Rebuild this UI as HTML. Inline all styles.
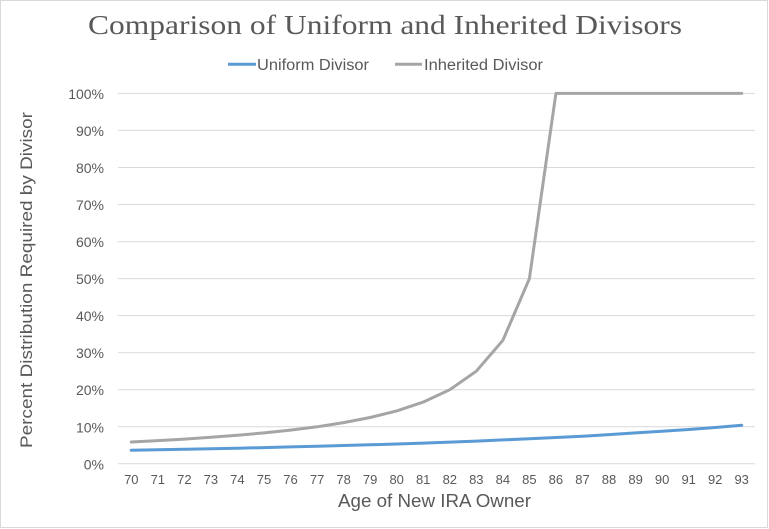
<!DOCTYPE html>
<html><head><meta charset="utf-8"><style>
html,body{margin:0;padding:0;background:#fff;}
svg{display:block;}
text{font-family:"Liberation Sans",sans-serif;fill:#595959;}
</style></head><body>
<svg width="769" height="529" viewBox="0 0 769 529" xmlns="http://www.w3.org/2000/svg">
<rect x="0.5" y="0.5" width="767" height="527" fill="#fff" stroke="#d9d9d9" stroke-width="1"/>
<text x="88" y="34" font-family="Liberation Serif, serif" font-size="27" textLength="594" lengthAdjust="spacingAndGlyphs" style="font-family:'Liberation Serif',serif">Comparison of Uniform and Inherited Divisors</text>
<line x1="228" y1="64.3" x2="256" y2="64.3" stroke="#5b9bd5" stroke-width="3"/>
<text x="257" y="70" font-size="15.5" textLength="112" lengthAdjust="spacingAndGlyphs">Uniform Divisor</text>
<line x1="395" y1="64.3" x2="422" y2="64.3" stroke="#a5a5a5" stroke-width="3"/>
<text x="424" y="70" font-size="15.5" textLength="119" lengthAdjust="spacingAndGlyphs">Inherited Divisor</text>
<g stroke="#d9d9d9" stroke-width="1">
<line x1="118" y1="93.4" x2="755" y2="93.4"/>
<line x1="118" y1="130.4" x2="755" y2="130.4"/>
<line x1="118" y1="167.5" x2="755" y2="167.5"/>
<line x1="118" y1="204.5" x2="755" y2="204.5"/>
<line x1="118" y1="241.6" x2="755" y2="241.6"/>
<line x1="118" y1="278.6" x2="755" y2="278.6"/>
<line x1="118" y1="315.6" x2="755" y2="315.6"/>
<line x1="118" y1="352.7" x2="755" y2="352.7"/>
<line x1="118" y1="389.7" x2="755" y2="389.7"/>
<line x1="118" y1="426.8" x2="755" y2="426.8"/>
<line x1="118" y1="463.8" x2="755" y2="463.8"/>
</g>
<g font-size="14" text-anchor="end">
<text x="104" y="98.9">100%</text>
<text x="104" y="135.9">90%</text>
<text x="104" y="173">80%</text>
<text x="104" y="210">70%</text>
<text x="104" y="247.1">60%</text>
<text x="104" y="284.1">50%</text>
<text x="104" y="321.1">40%</text>
<text x="104" y="358.2">30%</text>
<text x="104" y="395.2">20%</text>
<text x="104" y="432.3">10%</text>
<text x="104" y="469.3">0%</text>
</g>
<g font-size="13" text-anchor="middle">
<text x="131.3" y="484">70</text>
<text x="157.8" y="484">71</text>
<text x="184.4" y="484">72</text>
<text x="210.9" y="484">73</text>
<text x="237.4" y="484">74</text>
<text x="264.0" y="484">75</text>
<text x="290.5" y="484">76</text>
<text x="317.1" y="484">77</text>
<text x="343.6" y="484">78</text>
<text x="370.1" y="484">79</text>
<text x="396.7" y="484">80</text>
<text x="423.2" y="484">81</text>
<text x="449.8" y="484">82</text>
<text x="476.3" y="484">83</text>
<text x="502.9" y="484">84</text>
<text x="529.4" y="484">85</text>
<text x="555.9" y="484">86</text>
<text x="582.5" y="484">87</text>
<text x="609.0" y="484">88</text>
<text x="635.6" y="484">89</text>
<text x="662.1" y="484">90</text>
<text x="688.7" y="484">91</text>
<text x="715.2" y="484">92</text>
<text x="741.7" y="484">93</text>
</g>
<text x="338" y="507" font-size="18" textLength="193" lengthAdjust="spacingAndGlyphs">Age of New IRA Owner</text>
<text transform="translate(32,448) rotate(-90)" x="0" y="0" font-size="17" textLength="336" lengthAdjust="spacingAndGlyphs">Percent Distribution Required by Divisor</text>
<polyline fill="none" stroke="#a5a5a5" stroke-width="3" stroke-linejoin="round" stroke-linecap="round" points="131.3,442.0 157.8,440.6 184.4,439.1 210.9,437.3 237.4,435.3 264.0,432.9 290.5,430.1 317.1,426.8 343.6,422.6 370.1,417.5 396.7,410.9 423.2,402.1 449.8,389.7 476.3,371.2 502.9,340.3 529.4,278.6 555.9,93.4 582.5,93.4 609.0,93.4 635.6,93.4 662.1,93.4 688.7,93.4 715.2,93.4 741.7,93.4"/>
<polyline fill="none" stroke="#5b9bd5" stroke-width="3" stroke-linejoin="round" stroke-linecap="round" points="131.3,450.3 157.8,449.8 184.4,449.3 210.9,448.8 237.4,448.2 264.0,447.6 290.5,446.9 317.1,446.3 343.6,445.5 370.1,444.8 396.7,444.0 423.2,443.1 449.8,442.1 476.3,441.1 502.9,439.9 529.4,438.8 555.9,437.5 582.5,436.2 609.0,434.6 635.6,432.9 662.1,431.3 688.7,429.5 715.2,427.5 741.7,425.2"/>
</svg>
</body></html>
